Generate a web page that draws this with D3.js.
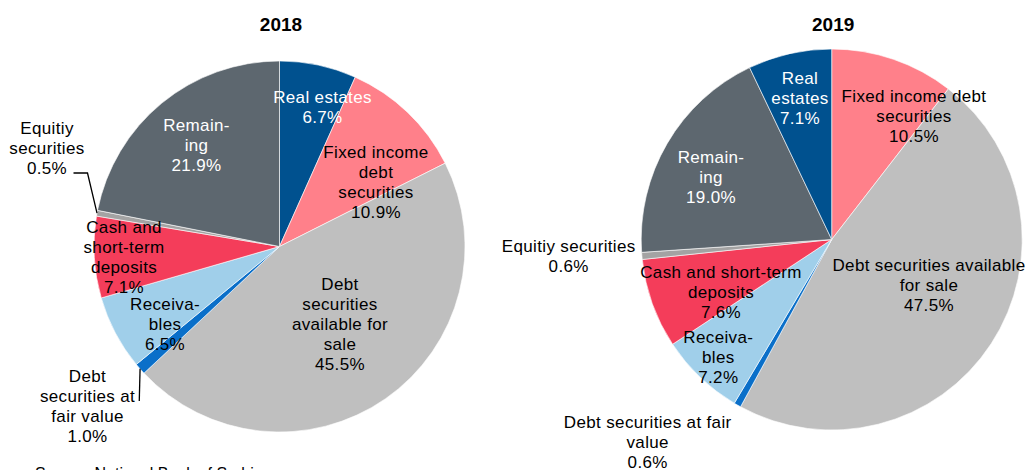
<!DOCTYPE html>
<html>
<head>
<meta charset="utf-8">
<script src="https://cdn.jsdelivr.net/npm/d3@7"></script>
<style>
  html, body { margin: 0; padding: 0; background: #fff; }
  svg { display: block; font-family: "Liberation Sans", Arial, sans-serif; }
</style>
</head>
<body>
<svg id="chart" width="1027" height="470"></svg>
<script>
// ---- data ----
const years = ["2018", "2019"];
const categories2018 = ["Real estates", "Fixed income debt securities", "Debt securities available for sale",
  "Debt securities at fair value", "Receivables", "Cash and short-term deposits", "Equitiy securities", "Remaining"];
const values2018 = [6.7, 10.9, 45.5, 1.0, 6.5, 7.1, 0.5, 21.9];
const categories2019 = ["Fixed income debt securities", "Debt securities available for sale",
  "Debt securities at fair value", "Receivables", "Cash and short-term deposits", "Equitiy securities", "Remaining", "Real estates"];
const values2019 = [10.5, 47.5, 0.6, 7.2, 7.6, 0.6, 19.0, 7.1];
const labelLines2018 = [
  ["Real estates"], ["Fixed income", "debt", "securities"], ["Debt", "securities", "available for", "sale"],
  ["Debt", "securities at", "fair value"], ["Receiva-", "bles"], ["Cash and", "short-term", "deposits"],
  ["Equitiy", "securities"], ["Remain-", "ing"]
];
const labelLines2019 = [
  ["Fixed income debt", "securities"], ["Debt securities available", "for sale"], ["Debt securities at fair", "value"],
  ["Receiva-", "bles"], ["Cash and  short-term", "deposits"], ["Equitiy  securities"], ["Remain-", "ing"], ["Real", "estates"]
];
const sourceText = "Source: National Bank of Serbia";

// ---- style / layout (not data) ----
const colorMap = {
  "Real estates": "#00518F",
  "Fixed income debt securities": "#FF808A",
  "Debt securities available for sale": "#BFBFBF",
  "Debt securities at fair value": "#0A6FC9",
  "Receivables": "#A0CFEA",
  "Cash and short-term deposits": "#F43D5A",
  "Equitiy securities": "#A3A3A3",
  "Remaining": "#5D676F"
};
const whiteText = new Set(["Real estates", "Remaining"]);
const pies = [
  { cx: 279.5, cy: 246.5, r: 185.5, titleY: 31,
    offsets: [[43, -144], [96.5, -89], [60.5, 43], [-192, 135], [-114.5, 63], [-155.5, -14], [-232.5, -113], [-83, -115.5]] },
  { cx: 831.7, cy: 239.5, r: 190.5, titleY: 31,
    offsets: [[82.3, -138], [97.3, 31], [-184, 188.5], [-113.4, 103], [-110.7, 38], [-263, 12], [-120.7, -77], [-31.7, -155.5]] }
];
const lineH = 20.2;

const svg = d3.select("#chart");
const datasets = [
  { cats: categories2018, vals: values2018, lines: labelLines2018 },
  { cats: categories2019, vals: values2019, lines: labelLines2019 }
];

datasets.forEach((ds, i) => {
  const P = pies[i];
  const g = svg.append("g").attr("transform", `translate(${P.cx},${P.cy})`);
  const pie = d3.pie().sort(null).value(d => d.v);
  const rows = ds.cats.map((c, k) => ({ cat: c, v: ds.vals[k], lines: ds.lines[k], off: P.offsets[k] }));
  const arcs = pie(rows);
  const arc = d3.arc().innerRadius(0).outerRadius(P.r);

  g.selectAll("path.slice").data(arcs).enter().append("path")
    .attr("class", "slice")
    .attr("d", arc)
    .attr("fill", d => colorMap[d.data.cat])
    .attr("stroke", "#fff")
    .attr("stroke-width", 0.6);

  // title
  svg.append("text")
    .attr("x", P.cx + 1.5).attr("y", P.titleY)
    .attr("text-anchor", "middle")
    .attr("font-size", 19).attr("font-weight", "bold").attr("fill", "#000")
    .text(years[i]);

  // labels
  arcs.forEach(d => {
    const lines = d.data.lines.concat([d3.format(".1f")(d.data.v) + "%"]);
    const t = g.append("text")
      .attr("text-anchor", "middle")
      .attr("font-size", 17)
      .attr("letter-spacing", 0.35)
      .attr("fill", whiteText.has(d.data.cat) ? "#fff" : "#000");
    lines.forEach((ln, j) => {
      t.append("tspan").attr("x", d.data.off[0]).attr("y", d.data.off[1] + j * lineH).text(ln);
    });
  });

  // leader lines for 2018 small slices
  if (i === 0) {
    const edge = d => {
      const a = (d.startAngle + d.endAngle) / 2;
      return [P.r * Math.sin(a), -P.r * Math.cos(a)];
    };
    const eq = arcs.find(d => d.data.cat === "Equitiy securities");
    const e1 = edge(eq);
    g.append("path")
      .attr("d", d3.line()([[-206, -73.5], [-192, -73.5], e1]))
      .attr("fill", "none").attr("stroke", "#000").attr("stroke-width", 1.3);
    const fv = arcs.find(d => d.data.cat === "Debt securities at fair value");
    const e2 = edge(fv);
    g.append("path")
      .attr("d", d3.line()([[e2[0] - 0.8, 154.5], e2]))
      .attr("fill", "none").attr("stroke", "#000").attr("stroke-width", 1.3);
  }
});

svg.append("text")
  .attr("x", 35).attr("y", 479)
  .attr("font-size", 16).attr("fill", "#000")
  .text(sourceText);
</script>
</body>
</html>
